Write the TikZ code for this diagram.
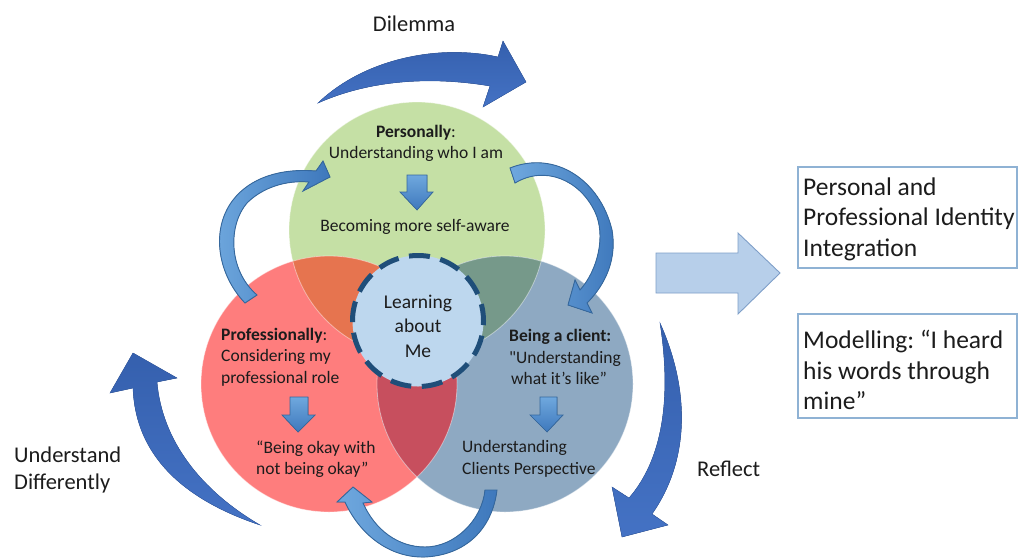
\documentclass[tikz,border=0pt]{standalone}
\usepackage{fontspec}
\setmainfont{Carlito}[Ligatures=TeXOff]
\definecolor{cgreen}{HTML}{C5E0A5}
\definecolor{cred}{HTML}{FE7D7D}
\definecolor{cblue}{HTML}{8EA9C2}
\definecolor{cRG}{HTML}{E6744F}
\definecolor{cGB}{HTML}{76998A}
\definecolor{cRB}{HTML}{C74F5E}
\definecolor{ccenter}{HTML}{BDD7EE}
\definecolor{cdash}{HTML}{1F4E79}
\definecolor{cbig}{HTML}{4472C4}
\definecolor{cbigtop}{HTML}{3560AE}
\definecolor{csmallA}{HTML}{6FA8DE}
\definecolor{csmallB}{HTML}{3E78BC}
\definecolor{cedge}{HTML}{35689E}
\definecolor{clight}{HTML}{B7CFEA}
\definecolor{clightedge}{HTML}{7F9FC8}
\definecolor{cbox}{HTML}{8FB2D4}
\definecolor{ctext}{HTML}{1C1C1C}
\begin{document}
\frenchspacing
\begin{tikzpicture}[x=1pt,y=-1pt,
  txt/.style={inner sep=0pt, text=ctext, font=\fontsize{17.5}{21.5}\selectfont},
  bigtxt/.style={inner sep=0pt, text=ctext, font=\fontsize{22.5}{27}\selectfont},
  boxtxt/.style={inner sep=0pt, text=ctext, font=\fontsize{25.5}{30.5}\selectfont, align=left, anchor=west},
  bigarrow/.style={top color=cbigtop, bottom color=cbig, draw=cbigtop, line width=0.4pt},
  smallarrow/.style={left color=csmallA, right color=csmallB, draw=cedge, line width=0.9pt, line join=miter},
  downarrow/.style={top color=csmallA, bottom color=csmallB, draw=cedge, line width=0.7pt},
  infobox/.style={draw=cbox, line width=1.1pt, fill=white}
]
\useasboundingbox (0,0) rectangle (1019,557);
\fill[white] (0,0) rectangle (1019,557);

% --- Venn circles ---
\coordinate (G) at (417,230);
\coordinate (R) at (329,384);
\coordinate (B) at (505,384);
\fill[cgreen] (G) circle[radius=128pt];
\fill[cred] (R) circle[radius=128pt];
\fill[cblue] (B) circle[radius=128pt];
\begin{scope}
  \clip (G) circle[radius=128pt];
  \fill[cRG] (R) circle[radius=128pt];
  \fill[cGB] (B) circle[radius=128pt];
\end{scope}
\begin{scope}
  \clip (R) circle[radius=128pt];
  \fill[cRB] (B) circle[radius=128pt];
\end{scope}
\draw[white, opacity=0.45, line width=0.8pt] (G) circle[radius=128pt] (R) circle[radius=128pt] (B) circle[radius=128pt];

% --- centre circle ---
\node[circle, minimum size=131pt, inner sep=0pt, fill=ccenter, draw=cdash, line width=5pt,
      dash pattern=on 21pt off 10.65pt, dash phase=4pt] (me) at (418,321) {};
\node[inner sep=0pt, text=ctext, align=center, font=\fontsize{19.5}{24.5}\selectfont] (melabel) at (418,326) {Learning\\about\\Me};

% --- big dark arrows ---
% Dilemma
\fill[bigarrow] (318,103) .. controls (365,58) and (440,44) .. (498,57)
  -- (503,41) -- (526,82) -- (483,107) -- (490,86)
  .. controls (430,76) and (370,80) .. (318,103) -- cycle;
% Understand Differently
\fill[bigarrow] (260,525) .. controls (200,490) and (162,440) .. (157,382)
  -- (177,378) -- (133,353) -- (110,393) -- (133,388)
  .. controls (135,445) and (170,495) .. (260,525) -- cycle;
% Reflect
\fill[bigarrow] (660,323) .. controls (690,390) and (690,460) .. (652,514)
  -- (668,525) -- (622,537) -- (612,487) -- (629,498)
  .. controls (662,460) and (672,400) .. (660,323) -- cycle;

% --- small curved arrows ---
% left: red -> green
\filldraw[smallarrow] (245,303) .. controls (218,275) and (210,230) .. (233,200)
  .. controls (250,178) and (280,168) .. (316,171)
  -- (323,161) -- (330,177) -- (303,191) -- (309,182)
  .. controls (285,180) and (262,188) .. (247,203)
  .. controls (228,225) and (228,270) .. (257,295) -- cycle;
% right: green -> blue
\filldraw[smallarrow] (510,168) .. controls (555,150) and (600,180) .. (612,230)
  .. controls (618,265) and (600,290) .. (587,303)
  -- (592,313) -- (568,305) -- (575,280) -- (580,290)
  .. controls (598,270) and (606,235) .. (595,212)
  .. controls (580,180) and (545,165) .. (515,183) -- cycle;
% bottom: blue -> red
\filldraw[smallarrow] (497,490) .. controls (492,530) and (465,555) .. (425,557)
  .. controls (390,558) and (360,535) .. (345,502)
  -- (337,502) -- (353,487) -- (372,502) -- (363,503)
  .. controls (375,530) and (398,547) .. (425,547)
  .. controls (455,547) and (482,520) .. (485,490) -- cycle;

% --- small down arrows ---
\filldraw[downarrow] (407,175) -- (427,175) -- (427,192) -- (433,192) -- (417,210) -- (400,192) -- (407,192) -- cycle;
\filldraw[downarrow] (290,397) -- (308,397) -- (308,415) -- (315,415) -- (298,432) -- (282,415) -- (290,415) -- cycle;
\filldraw[downarrow] (540,397) -- (557,397) -- (557,415) -- (563,415) -- (547,432) -- (530,415) -- (540,415) -- cycle;

% --- light block arrow ---
\filldraw[fill=clight, draw=clightedge, line width=0.9pt]
  (656,253) -- (738,253) -- (738,233) -- (780,273) -- (738,314) -- (738,293) -- (656,293) -- cycle;

% --- text in circles ---
\node[txt, align=center] (pers) at (416,143.5) {\textbf{Personally}:\\Understanding who I am};
\node[txt] (aware) at (415,227) {Becoming more self-aware};
\node[txt, align=left, anchor=west] (prof) at (221,357) {\textbf{Professionally}:\\Considering my\\professional role};
\node[txt, align=left, anchor=west] (okay) at (256,459) {“Being okay with\\not being okay”};
\node[txt, align=left, anchor=west] (client) at (509,357) {\textbf{Being a client:}\\"Understanding\\\hspace*{2pt}what it’s like”};
\node[txt, align=left, anchor=west] (persp) at (462,459) {Understanding\\Clients Perspective};

% --- outer labels ---
\node[bigtxt] (dilemma) at (414,24) {Dilemma};
\node[bigtxt, align=left, anchor=west] (underst) at (14,470) {Understand\\Differently};
\node[bigtxt, anchor=west] (reflect) at (697,469) {Reflect};

% --- boxes ---
\draw[infobox] (798,167) rectangle (1017,268);
\draw[infobox] (798,314) rectangle (1017,418);
\node[boxtxt] (ident) at (803,219) {Personal and\\Professional Identity\\Integration};
\node[boxtxt] (model) at (803,370) {Modelling: “I heard\\his words through\\mine”};
\end{tikzpicture}
\end{document}
